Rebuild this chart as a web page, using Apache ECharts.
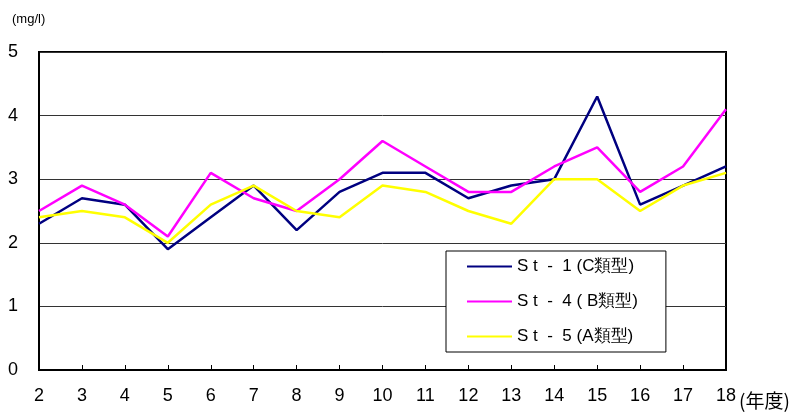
<!DOCTYPE html>
<html><head><meta charset="utf-8">
<script src="https://cdn.jsdelivr.net/npm/echarts@6/dist/echarts.min.js"></script>
<style>html,body{margin:0;padding:0;background:#fff}#c{width:800px;height:416px}</style>
</head><body><div id="c"></div>
<script>
const years = ['2','3','4','5','6','7','8','9','10','11','12','13','14','15','16','17','18'];
const st1 = [2.3,2.7,2.6,1.9,2.4,2.9,2.2,2.8,3.1,3.1,2.7,2.9,3.0,4.3,2.6,2.9,3.2];
const st4 = [2.5,2.9,2.6,2.1,3.1,2.7,2.5,3.0,3.6,3.2,2.8,2.8,3.2,3.5,2.8,3.2,4.1];
const st5 = [2.4,2.5,2.4,2.0,2.6,2.9,2.5,2.4,2.9,2.8,2.5,2.3,3.0,3.0,2.5,2.9,3.1];
const names = ['S t  -  1 (C類型)','S t  -  4 ( B類型)','S t  -  5 (A類型)'];
const colors = ['#000080','#FF00FF','#FFFF00'];
const font = '"Liberation Sans", Arial, sans-serif';
const chart = echarts.init(document.getElementById('c'), null, {renderer:'canvas'});
const mk = (n,d,c)=>({name:n,type:'line',data:d,symbol:'none',lineStyle:{color:c,width:2.5},itemStyle:{color:c},z:3});
chart.setOption({
  animation:false,
  textStyle:{fontFamily:font},
  grid:{left:39,right:74,top:52,bottom:46,show:true,borderColor:'#000',borderWidth:2,backgroundColor:'transparent'},
  xAxis:{type:'category',data:years,boundaryGap:false,
    axisLine:{lineStyle:{color:'#000',width:2}},
    axisTick:{show:true,inside:true,length:5,lineStyle:{color:'#000',width:1}},
    axisLabel:{color:'#000',fontSize:18,margin:17,fontFamily:font}},
  yAxis:{type:'value',min:0,max:5,interval:1,
    axisLine:{show:true,lineStyle:{color:'#000',width:2}},
    axisTick:{show:false},
    splitLine:{lineStyle:{color:'#333',width:1}},
    axisLabel:{color:'#000',fontSize:18,margin:21,align:'right',fontFamily:font}},
  legend:{orient:'vertical',left:446,top:251,
    backgroundColor:'#fff',borderColor:'#000',borderWidth:1,
    padding:[7,28,7,21],itemGap:18,itemWidth:45,itemHeight:19,
    icon:'path://M0,9 L45,9 L45,11 L0,11 Z',
    textStyle:{fontSize:17,color:'#000',fontFamily:font},
    data:names},
  graphic:[
    {type:'text',left:12,top:13,style:{text:'(mg/l)',fill:'#000',font:'13px '+font}},
    {type:'text',left:739,top:391,style:{text:'(年度)',fill:'#000',font:'19px "Noto Sans CJK JP", sans-serif'}}
  ],
  series:[mk(names[0],st1,colors[0]),mk(names[1],st4,colors[1]),mk(names[2],st5,colors[2])]
});
</script></body></html>
